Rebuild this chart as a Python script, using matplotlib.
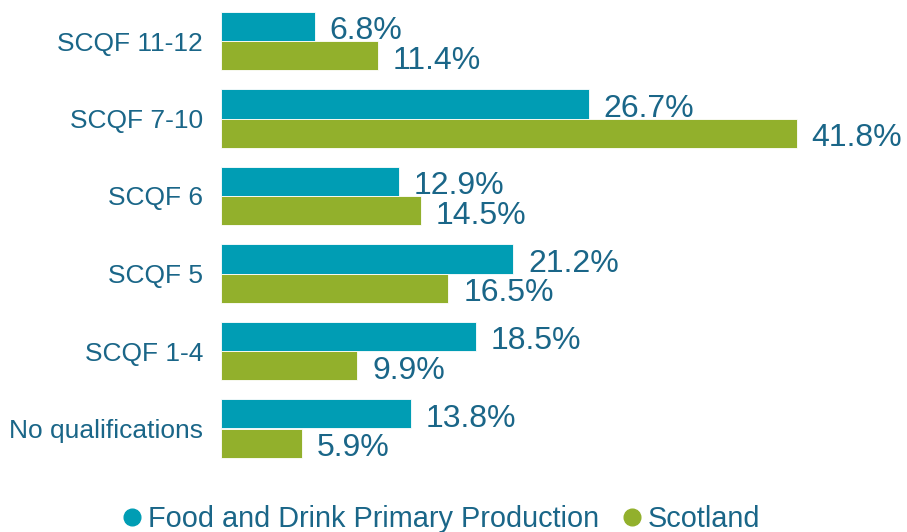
import matplotlib.pyplot as plt
from matplotlib.lines import Line2D
import numpy as np

plt.rcParams['font.family'] = ['Liberation Sans', 'DejaVu Sans']

categories = ['SCQF 11-12', 'SCQF 7-10', 'SCQF 6', 'SCQF 5', 'SCQF 1-4', 'No qualifications']
food_drink = [6.8, 26.7, 12.9, 21.2, 18.5, 13.8]
scotland = [11.4, 41.8, 14.5, 16.5, 9.9, 5.9]
series_names = ['Food and Drink Primary Production', 'Scotland']

teal = '#009db4'
green = '#92b02c'
text_col = '#1a6688'

fig = plt.figure(figsize=(9.07, 5.32), dpi=100)
ax = fig.add_axes([221 / 907, 1 - 467.25 / 532, 661 / 907, 465 / 532])

y = np.arange(len(categories))
h = 0.38
b1 = ax.barh(y - h / 2, food_drink, height=h, color=teal, edgecolor='white', linewidth=0.6)
b2 = ax.barh(y + h / 2, scotland, height=h, color=green, edgecolor='white', linewidth=0.6)

# value labels to the right of each bar
for bars, vals in ((b1, food_drink), (b2, scotland)):
    for bar, v in zip(bars, vals):
        ax.annotate(f'{v:.1f}%', (v, bar.get_y() + bar.get_height() / 2),
                    xytext=(15, -5), textcoords='offset pixels',
                    va='center', ha='left', fontsize=23, color=text_col)

ax.set_xlim(0, 48)
ax.set_ylim(len(categories) - 0.5, -0.5)
ax.set_yticks(y)
ax.set_yticklabels(categories, fontsize=19, color=text_col)
ax.tick_params(axis='y', length=0, pad=13)
ax.set_xticks([])
for s in ax.spines.values():
    s.set_visible(False)

handles = [Line2D([], [], marker='o', linestyle='none', markersize=12, color=c) for c in (teal, green)]
leg = fig.legend(handles, series_names, loc='center', bbox_to_anchor=(441 / 907, 1 - 519 / 532),
                 ncol=2, frameon=False, fontsize=20.8, handlelength=0.7, handletextpad=0.2,
                 columnspacing=0.8, borderaxespad=0)
for t in leg.get_texts():
    t.set_color(text_col)

fig.savefig('out.png', dpi=100)
